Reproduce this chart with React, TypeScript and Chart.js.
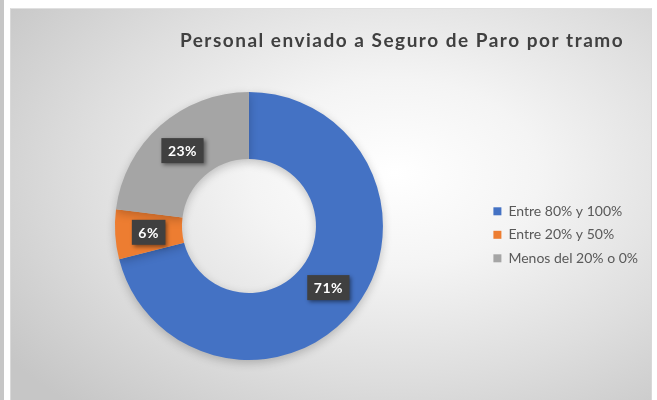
import React, { useEffect, useRef } from "react";
import { Chart, registerables } from "chart.js";
Chart.register(...registerables);

const chartTitle = "Personal enviado a Seguro de Paro por tramo";
const categories = ["Entre 80% y 100%", "Entre 20% y 50%", "Menos del 20% o 0%"];
const values = [71, 6, 23];
const colors = ["#4472C4", "#ED7D31", "#A5A5A5"];

const FONT = "Lato, 'Open Sans', sans-serif";

const titlePlugin = {
  id: "customTitle",
  afterDraw(chart: any) {
    const ctx = chart.ctx;
    ctx.save();
    ctx.font = `bold 19px ${FONT}`;
    (ctx as any).letterSpacing = "1.5px";
    ctx.fillStyle = "#404040";
    ctx.textAlign = "center";
    ctx.textBaseline = "middle";
    ctx.fillText(chartTitle, 392, 33);
    ctx.restore();
  },
};

const shadowPlugin = {
  id: "ringShadow",
  beforeDatasetsDraw(chart: any) {
    const ctx = chart.ctx;
    ctx.save();
    ctx.shadowColor = "rgba(0,0,0,0.22)";
    ctx.shadowBlur = 10;
    ctx.shadowOffsetY = 3;
  },
  afterDatasetsDraw(chart: any) {
    chart.ctx.restore();
  },
};

const labelPlugin = {
  id: "valueBoxes",
  afterDatasetsDraw(chart: any) {
    const ctx = chart.ctx;
    const meta = chart.getDatasetMeta(0);
    const data = chart.data.datasets[0].data;
    ctx.save();
    ctx.font = `bold 14px ${FONT}`;
    (ctx as any).letterSpacing = "0.5px";
    meta.data.forEach((arc: any, i: number) => {
      const { x, y } = arc.tooltipPosition();
      const text = data[i] + "%";
      const w = ctx.measureText(text).width + 13;
      const h = 25;
      ctx.shadowColor = "rgba(0,0,0,0.45)";
      ctx.shadowBlur = 4;
      ctx.shadowOffsetX = 2;
      ctx.shadowOffsetY = 2;
      ctx.fillStyle = "#404040";
      ctx.fillRect(x - w / 2, y - h / 2, w, h);
      ctx.shadowColor = "transparent";
      ctx.fillStyle = "#ffffff";
      ctx.textAlign = "center";
      ctx.textBaseline = "middle";
      ctx.fillText(text, x, y + 1);
    });
    ctx.restore();
  },
};

export default function App() {
  const ref = useRef<HTMLCanvasElement | null>(null);
  useEffect(() => {
    if (!ref.current) return;
    const chart = new Chart(ref.current, {
      type: "doughnut",
      data: {
        labels: categories,
        datasets: [
          {
            data: values,
            backgroundColor: colors,
            borderWidth: 0,
          },
        ],
      },
      options: {
        responsive: false,
        animation: false,
        cutout: "50%",
        layout: { padding: { top: 84, bottom: 40, left: 4, right: 4 } },
        plugins: {
          tooltip: { enabled: false },
          title: { display: false },
          legend: {
            position: "right",
            title: { display: true, text: " ", padding: { top: 8, bottom: 0 }, font: { size: 8 } },
            labels: {
              boxWidth: 8,
              boxHeight: 8,
              padding: 9.5,
              color: "#595959",
              font: { size: 14, family: FONT },
            },
          },
        },
      },
      plugins: [shadowPlugin, labelPlugin, titlePlugin],
    });
    return () => chart.destroy();
  }, []);

  return (
    <div style={{ position: "absolute", left: 0, top: 0, width: 657, height: 400, background: "#ffffff", overflow: "hidden" }}>
      <div style={{ position: "absolute", left: 0, top: 0, width: 4, height: 400, background: "#c6c6c6" }} />
      <div
        style={{
          position: "absolute",
          left: 10,
          top: 8,
          width: 642,
          height: 392,
          boxSizing: "border-box",
          borderTop: "1px solid #e0e0e0",
          borderLeft: "1px solid #d8d8d8",
          borderRight: "1px solid #d8d8d8",
          background: "radial-gradient(ellipse 75% 80% at 60% 42%, #ffffff 0%, #f4f4f4 30%, #dedede 65%, #c6c6c6 100%)",
        }}
      >
        <canvas ref={ref} width={642} height={392} style={{ position: "absolute", left: -1, top: -1 }} />
      </div>
    </div>
  );
}
